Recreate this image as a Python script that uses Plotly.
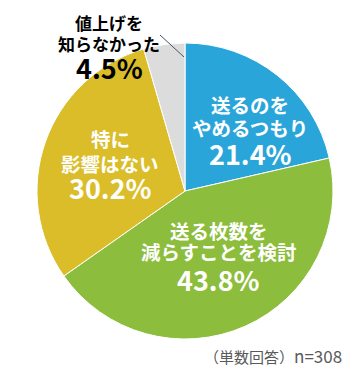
import plotly.graph_objects as go

W, H = 362, 371

categories = ["送るのをやめるつもり", "送る枚数を減らすことを検討", "特に影響はない", "値上げを知らなかった"]
values = [21.4, 43.8, 30.2, 4.5]
colors = ["#2AA5DA", "#8CBD3C", "#DABD29", "#DCDCDC"]
label_lines = [["送るのを", "やめるつもり"], ["送る枚数を", "減らすことを検討"], ["特に", "影響はない"], ["値上げを", "知らなかった"]]
pct_labels = [f"{v:.1f}%" for v in values]
note_head = "（単数回答）"
note_n = "n=308"

# layout positions (pixels) for label blocks: (x_center, [line y...], pct y, text color, text size, pct size)
label_pos = [
    (250, [105, 127], 153, "white", 19.5, 27),
    (219, [230, 251], 279, "white", 19.5, 27),
    (110, [138, 163], 188, "white", 19.5, 27),
    (109, [22, 43], 68, "black", 17, 27),
]

FONT = "Noto Sans CJK JP"

fig = go.Figure(go.Pie(
    labels=categories,
    values=values,
    sort=False,
    direction="clockwise",
    rotation=0,
    marker=dict(colors=colors, line=dict(color="white", width=1)),
    textinfo="none",
    hoverinfo="label+percent",
    showlegend=False,
    domain=dict(x=[37 / W, 333 / W], y=[1 - 339 / H, 1 - 43 / H]),
))

def px(x):
    return x / W

def py(y):
    return 1 - y / H

annotations = []
for lines, pct, (xc, ys, yp, col, s1, s2) in zip(label_lines, pct_labels, label_pos):
    for t, y in zip(lines, ys):
        annotations.append(dict(text=f"<b>{t}</b>", x=px(xc), y=py(y), xref="paper", yref="paper",
                                showarrow=False, xanchor="center", yanchor="middle",
                                font=dict(family=FONT, size=s1, color=col)))
    annotations.append(dict(text=f"<b>{pct}</b>", x=px(xc), y=py(yp), xref="paper", yref="paper",
                            showarrow=False, xanchor="center", yanchor="middle",
                            font=dict(family=FONT, size=s2, color=col)))

annotations.append(dict(text=f"{note_head}<span style='font-size:17px'>{note_n}</span>",
                        x=px(344), y=py(355), xref="paper", yref="paper",
                        showarrow=False, xanchor="right", yanchor="middle",
                        font=dict(family=FONT, size=15, color="#595959")))

fig.update_layout(
    width=W, height=H,
    margin=dict(l=0, r=0, t=0, b=0),
    paper_bgcolor="white",
    plot_bgcolor="white",
    annotations=annotations,
    shapes=[dict(type="line", xref="paper", yref="paper",
                 x0=px(160), y0=py(35), x1=px(184), y1=py(57),
                 line=dict(color="#44546A", width=1))],
)

fig.write_html("out.html", config={"displayModeBar": False},
               post_script="document.body.style.margin='0';document.body.style.padding='0';")
